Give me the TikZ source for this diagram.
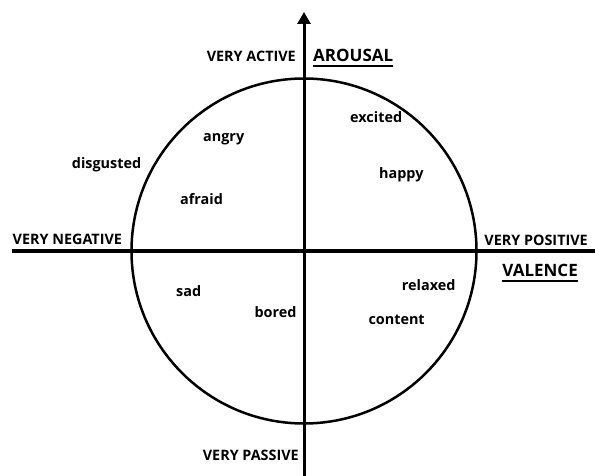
\documentclass[tikz,border=0pt]{standalone}
\usepackage{fontspec}
\setmainfont{Open Sans}
\usetikzlibrary{arrows.meta}
\begin{document}
\begin{tikzpicture}[x=1pt, y=-1pt, >={Triangle[width=13pt,length=12pt]},
    every node/.style={inner sep=0pt, font=\bfseries\fontsize{14.4}{16}\selectfont},
    axis/.style={line width=3pt},
    title/.style={font=\bfseries\fontsize{17}{19}\selectfont}]
	\useasboundingbox (0,0) rectangle (595,476);
	
	% 1. circle
	\draw[line width=2.5pt] (304,251) circle (172.5pt);
	
	% 2. axes
	\coordinate (west) at (12,251);
	\coordinate (east) at (596,251);
	\coordinate (south) at (304,477);
	\coordinate (north) at (304,12);
	\draw[axis] (west) -- (east);
	\draw[axis, ->] (south) -- (north);
	
	% 3. axis labels
	\node[anchor=base east] (active) at (296,62) {VERY ACTIVE};
	\node[anchor=base west, title] (arousal) at (313,62) {AROUSAL};
	\draw[line width=2pt] ([yshift=-4pt]arousal.base west) -- ([yshift=-4pt]arousal.base east);
	\node[anchor=base west] (negative) at (12.5,244) {VERY NEGATIVE};
	\node[anchor=base east] (positive) at (588,245) {VERY POSITIVE};
	\node[anchor=base east, title] (valence) at (578,276.7) {VALENCE};
	\draw[line width=2pt] ([yshift=-4.3pt]valence.base west) -- ([yshift=-4.3pt]valence.base east);
	\node[anchor=base east] (passive) at (299,460) {VERY PASSIVE};
	
	% 4. emotions
	\node[anchor=base west] (disgusted) at (71.7,168.3) {disgusted};
	\node[anchor=base west] (angry) at (203,141.7) {angry};
	\node[anchor=base west] (afraid) at (180,205) {afraid};
	\node[anchor=base west] (excited) at (350,122.7) {excited};
	\node[anchor=base west] (happy) at (379,178.3) {happy};
	\node[anchor=base west] (sad) at (176,296) {sad};
	\node[anchor=base west] (bored) at (254.3,317.7) {bored};
	\node[anchor=base west] (relaxed) at (401.7,290.7) {relaxed};
	\node[anchor=base west] (content) at (368.3,324.3) {content};
\end{tikzpicture}
\end{document}
